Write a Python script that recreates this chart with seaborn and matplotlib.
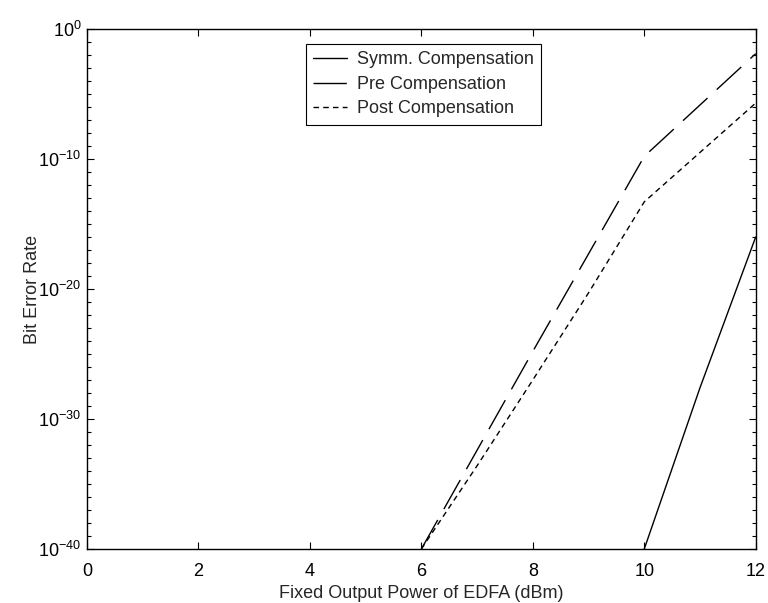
import numpy as np
import pandas as pd
import matplotlib
matplotlib.use("Agg")
import matplotlib.pyplot as plt
import matplotlib.ticker as mticker
import seaborn as sns

# Data (log10 of BER)
symm_x = [10, 11, 12]
symm_logber = [-40, -27.6, -16]
pre_x = [6, 8, 10, 12]
pre_logber = [-40, -24.8, -9.8, -1.9]
post_x = [6, 7, 8, 9, 10, 12]
post_logber = [-40, -33.6, -27.0, -20.3, -13.3, -5.7]

labels = ["Symm. Compensation", "Pre Compensation", "Post Compensation"]
x_ticks = [0, 2, 4, 6, 8, 10, 12]
y_major_exp = [-40, -30, -20, -10, 0]

sns.set_style("ticks")
plt.rcParams["font.family"] = ["Liberation Sans", "DejaVu Sans"]
plt.rcParams["mathtext.default"] = "regular"
plt.rcParams["mathtext.fontset"] = "custom"
plt.rcParams["mathtext.rm"] = "Liberation Sans"
plt.rcParams["mathtext.it"] = "Liberation Sans"

FS = 13

fig = plt.figure(figsize=(7.68, 6.03), dpi=100)
ax = fig.add_axes([0.1133, 0.0896, 0.8707, 0.8624])
ax.set_yscale("log")

series = [
    (symm_x, symm_logber, labels[0], "-"),
    (pre_x, pre_logber, labels[1], (0, (24, 9))),
    (post_x, post_logber, labels[2], (0, (4, 3))),
]
for xs, lys, lab, ls in series:
    sns.lineplot(x=xs, y=[10.0 ** v for v in lys], ax=ax, color="black",
                 lw=1.0, linestyle=ls, label=lab)

ax.set_xlim(0, 12)
ax.set_ylim(1e-40, 1e0)
ax.set_xticks(x_ticks)
ax.yaxis.set_major_locator(mticker.FixedLocator([10.0 ** e for e in y_major_exp]))
ax.yaxis.set_major_formatter(mticker.LogFormatterSciNotation())
ax.yaxis.set_minor_locator(mticker.FixedLocator(
    [10.0 ** e for e in range(-39, 0) if e % 10 != 0]))
ax.yaxis.set_minor_formatter(mticker.NullFormatter())
ax.xaxis.offsetText.set_visible(False)
ax.yaxis.offsetText.set_visible(False)

ax.tick_params(axis="both", which="both", direction="in", top=True, right=True,
               labelsize=FS, colors="black", width=0.8)
ax.tick_params(axis="both", which="major", length=5)
ax.tick_params(axis="x", which="major", pad=10)
ax.tick_params(axis="y", which="major", pad=4)
ax.tick_params(axis="y", which="minor", length=3)
for s in ax.spines.values():
    s.set_linewidth(1.0)
    s.set_color("black")

ax.set_xlabel("Fixed Output Power of EDFA (dBm)", fontsize=FS, labelpad=4)
ax.set_ylabel("Bit Error Rate", fontsize=FS, labelpad=-2)

leg = ax.legend(loc="upper left", bbox_to_anchor=(0.327, 0.971), fontsize=FS,
                frameon=True, fancybox=False, framealpha=1, edgecolor="black",
                handlelength=1.9, handletextpad=0.55, labelspacing=0.42,
                borderpad=0.4, borderaxespad=0)
leg.get_frame().set_linewidth(0.8)

fig.savefig("out.png", dpi=100, facecolor="white")
